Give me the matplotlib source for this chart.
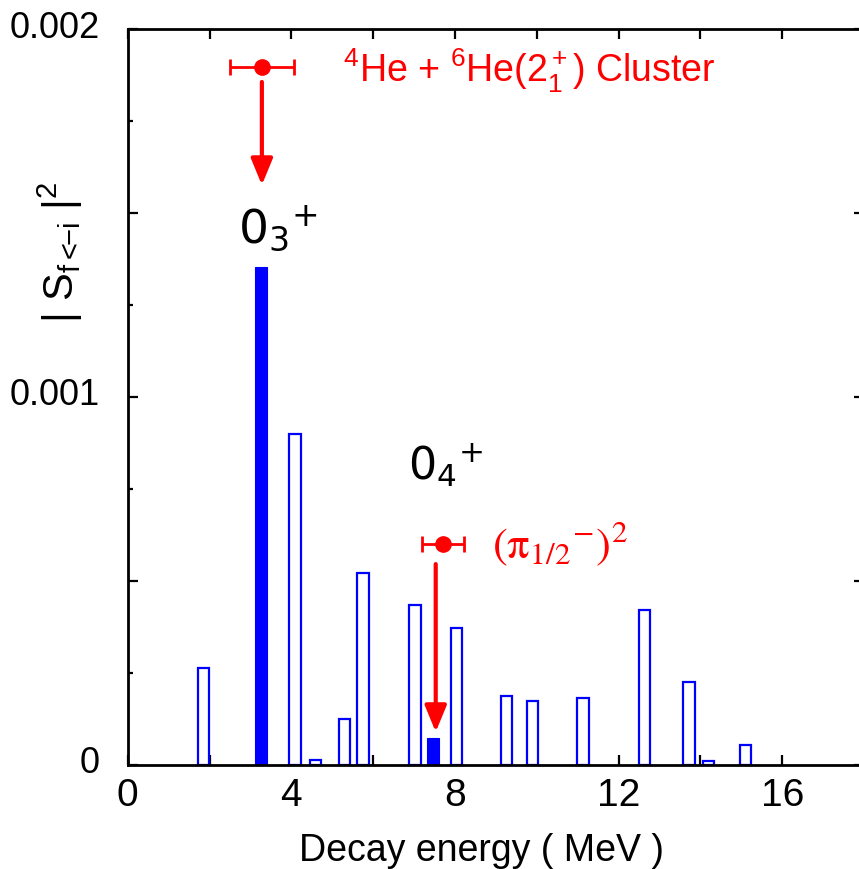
import matplotlib
matplotlib.use("Agg")
import matplotlib.pyplot as plt
from matplotlib.ticker import MultipleLocator, FuncFormatter
import matplotlib.transforms as mtransforms

plt.rcParams['font.family'] = ['Liberation Sans', 'DejaVu Sans']
plt.rcParams['mathtext.fontset'] = 'custom'
plt.rcParams['mathtext.rm'] = 'Liberation Sans'
plt.rcParams['mathtext.it'] = 'Liberation Sans:italic'
plt.rcParams['mathtext.bf'] = 'Liberation Sans:bold'

# ---- data ----
open_energy = [1.85, 4.09, 4.59, 5.30, 5.75, 7.02, 8.04, 9.26, 9.90, 11.13, 12.64, 13.72, 14.20, 15.10]
open_strength = [0.000264, 0.000900, 0.000013, 0.000126, 0.000521, 0.000434, 0.000371,
                 0.000187, 0.000173, 0.000182, 0.000422, 0.000226, 0.000012, 0.000055]
filled_energy = [3.25, 7.47]
filled_strength = [0.001354, 0.0000734]

cluster_x, cluster_y, cluster_err = 3.28, 0.001896, 0.79
pi_x, pi_y, pi_err = 7.70, 0.000600, 0.51
arrow1 = (3.28, 0.001856, 0.001576)   # x, start y, tip y
arrow2 = (7.53, 0.000546, 0.0000897)

bar_width = 0.28

fig = plt.figure(figsize=(8.59, 8.70), dpi=100)
W, H = 859, 870
x0px, x1px, ytop, ybot = 127.7, 864.0, 30.0, 766.0
ax = fig.add_axes([x0px / W, (H - ybot) / H, (x1px - x0px) / W, (ybot - ytop) / H])

blue = '#0000ff'
red = '#ff0000'

ax.bar(open_energy, open_strength, width=bar_width, facecolor='white',
       edgecolor=blue, linewidth=1.6, zorder=2)
ax.bar(filled_energy, filled_strength, width=bar_width + 0.02, facecolor=blue,
       edgecolor=blue, linewidth=0.8, zorder=2)

ax.set_xlim(0, 18)
ax.set_ylim(0, 0.002)

# error-bar markers
for (xx, yy, ee) in [(cluster_x, cluster_y, cluster_err), (pi_x, pi_y, pi_err)]:
    ax.errorbar([xx], [yy], xerr=[ee], fmt='o', color=red, ms=11, capsize=6,
                elinewidth=2, capthick=2, zorder=4, clip_on=False)

# arrows
for (ax_x, ys, ye) in [arrow1, arrow2]:
    ax.annotate('', xy=(ax_x, ye), xytext=(ax_x, ys),
                arrowprops=dict(arrowstyle='-|>,head_width=0.33,head_length=0.8',
                                color=red, lw=3, mutation_scale=20,
                                shrinkA=0, shrinkB=0), zorder=4)

# labels
ax.text(2.70, 0.001421, r'$0_3{}^{+}$', fontsize=34, color='black',
        math_fontfamily='dejavusans', ha='left', va='baseline')
ax.text(6.86, 0.000777, r'$0_4{}^{+}$', fontsize=32, color='black',
        math_fontfamily='dejavusans', ha='left', va='baseline')
ax.text(5.26, 0.001857, r'$^4$He + $^6$He(2$_1^+$) Cluster', fontsize=27,
        color=red, ha='left', va='baseline')
ax.text(8.91, 0.000565, r'$(\mathrm{\pi}_{1/2}{}^{-})^{2}$', fontsize=32, color=red,
        math_fontfamily='stix', ha='left', va='baseline')

# ticks
ax.xaxis.set_major_locator(MultipleLocator(4))
ax.xaxis.set_minor_locator(MultipleLocator(2))
ax.yaxis.set_major_locator(MultipleLocator(0.0005))
ax.yaxis.set_minor_locator(MultipleLocator(0.00025))

def yfmt(v, pos):
    if abs(v) < 1e-9:
        return '0'
    if abs(v - 0.001) < 1e-9:
        return '0.001'
    if abs(v - 0.002) < 1e-9:
        return '0.002'
    return ''
ax.yaxis.set_major_formatter(FuncFormatter(yfmt))

ax.tick_params(axis='both', which='both', direction='in', top=True, right=True,
               width=1.6, colors='black')
ax.tick_params(axis='x', which='major', length=7, labelsize=28, pad=9)
ax.tick_params(axis='x', which='minor', length=7)
ax.tick_params(axis='y', which='major', length=7, labelsize=26, pad=20)
ax.tick_params(axis='y', which='minor', length=3.5)

for sp in ax.spines.values():
    sp.set_linewidth(2)

offset = mtransforms.ScaledTranslation(0, 6 / 100, fig.dpi_scale_trans)
for lbl in ax.get_yticklabels():
    lbl.set_transform(lbl.get_transform() + offset)

ax.set_xlabel('Decay energy ( MeV )', fontsize=27)
ax.xaxis.set_label_coords((481.5 - x0px) / (x1px - x0px), (ybot - 833) / (ybot - ytop))

fig.text(60 / W, 1 - 252 / H, r'| S$_{\mathrm{f{<}\!\!{-}i}}$ |$^2$', fontsize=30,
         rotation=90, ha='center', va='center')

fig.savefig('out.png', dpi=100)
